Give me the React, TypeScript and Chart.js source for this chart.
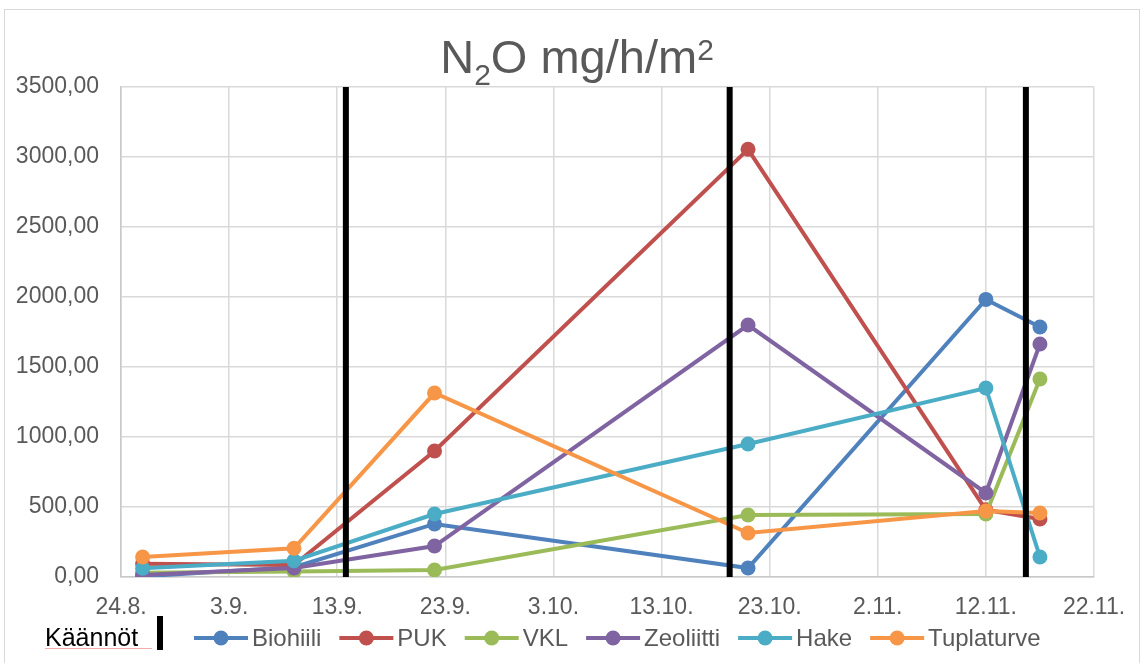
import React, { useEffect, useRef } from 'react';
import { Chart, registerables } from 'chart.js';

Chart.register(...registerables);

// Measurement dates (d.m.) and days after 24.8.
const measureDates = ['26.8.', '9.9.', '22.9.', '21.10.', '12.11.', '17.11.'];
// Turning events (Käännöt), days after 24.8.
const turnDays = [20.8, 56.3, 83.7];

const xTickLabels = ['24.8.', '3.9.', '13.9.', '23.9.', '3.10.', '13.10.', '23.10.', '2.11.', '12.11.', '22.11.'];
const yTickLabels = ['0,00', '500,00', '1000,00', '1500,00', '2000,00', '2500,00', '3000,00', '3500,00'];

const seriesNames = ['Biohiili', 'PUK', 'VKL', 'Zeoliitti', 'Hake', 'Tuplaturve'];
const seriesColors = ['#4F81BD', '#C0504D', '#9BBB59', '#8064A2', '#4BACC6', '#F79646'];

const biohiili = [5, 70, 379, 64, 1983, 1786];
const puk = [95, 85, 900, 3055, 480, 414];
const vkl = [30, 40, 50, 443, 450, 1414];
const zeoliitti = [15, 65, 221, 1800, 600, 1664];
const hake = [62, 116, 450, 950, 1350, 143];
const tuplaturve = [143, 205, 1314, 314, 471, 457];

const seriesValues = [biohiili, puk, vkl, zeoliitti, hake, tuplaturve];

const FONT = "'Liberation Sans', Arial, sans-serif";
const TEXT = '#595959';

function dayOffset(label: string): number {
  const [d, m] = label.split('.').map((s) => parseInt(s, 10));
  const base = Date.UTC(2020, 7, 24);
  const t = Date.UTC(2020, m - 1, d);
  return Math.round((t - base) / 86400000);
}

const decorPlugin = {
  id: 'decor',
  beforeDraw(chart: any) {
    const ctx = chart.ctx;
    ctx.save();
    ctx.fillStyle = '#ffffff';
    ctx.fillRect(0, 0, chart.width, chart.height);
    ctx.strokeStyle = '#D9D9D9';
    ctx.lineWidth = 1;
    ctx.strokeRect(4.5, 9.5, 1135, 670);
    ctx.restore();
  },
  afterDraw(chart: any) {
    const ctx = chart.ctx;
    ctx.save();
    // Title: N2O mg/h/m2
    const big = `47px ${FONT}`;
    const small = `30px ${FONT}`;
    ctx.fillStyle = TEXT;
    ctx.textBaseline = 'alphabetic';
    ctx.textAlign = 'left';
    ctx.font = big;
    const wN = ctx.measureText('N').width;
    const wMid = ctx.measureText('O mg/h/m').width;
    ctx.font = small;
    const w2 = ctx.measureText('2').width;
    const total = wN + w2 + wMid + w2;
    let x = 577 - total / 2;
    ctx.font = big;
    ctx.fillText('N', x, 73);
    x += wN;
    ctx.font = small;
    ctx.fillText('2', x, 85);
    x += w2;
    ctx.font = big;
    ctx.fillText('O mg/h/m', x, 73);
    x += wMid;
    ctx.font = small;
    ctx.fillText('2', x, 60);

    // Legend
    const ly = 638;
    ctx.font = `25px ${FONT}`;
    ctx.fillStyle = '#000000';
    ctx.textBaseline = 'alphabetic';
    ctx.fillText('Käännöt', 45, 646);
    ctx.strokeStyle = 'rgba(240,150,150,0.8)';
    ctx.lineWidth = 1;
    ctx.beginPath();
    ctx.moveTo(45, 648.5);
    ctx.lineTo(152, 648.5);
    ctx.stroke();
    ctx.fillStyle = '#000000';
    ctx.fillRect(157, 616, 6, 34);

    ctx.font = `24px ${FONT}`;
    ctx.textBaseline = 'middle';
    let lx = 194;
    seriesNames.forEach((name, i) => {
      const c = seriesColors[i];
      ctx.strokeStyle = c;
      ctx.lineWidth = 4;
      ctx.beginPath();
      ctx.moveTo(lx, ly);
      ctx.lineTo(lx + 54, ly);
      ctx.stroke();
      ctx.fillStyle = c;
      ctx.beginPath();
      ctx.arc(lx + 27, ly, 7.5, 0, Math.PI * 2);
      ctx.fill();
      ctx.fillStyle = TEXT;
      ctx.fillText(name, lx + 58, ly + 1);
      lx += 58 + ctx.measureText(name).width + 18;
    });
    ctx.restore();
  },
};

export default function App() {
  const ref = useRef<HTMLCanvasElement | null>(null);

  useEffect(() => {
    if (!ref.current) return;
    const xs = measureDates.map(dayOffset);
    const datasets: any[] = [];
    turnDays.forEach((d) => {
      datasets.push({
        label: 'Käännöt',
        data: [
          { x: d, y: 0 },
          { x: d, y: 3500 },
        ],
        borderColor: '#000000',
        backgroundColor: '#000000',
        borderWidth: 6,
        pointRadius: 0,
        order: 0,
      });
    });
    seriesNames.forEach((name, i) => {
      datasets.push({
        label: name,
        data: xs.map((x, j) => ({ x, y: seriesValues[i][j] })),
        borderColor: seriesColors[i],
        backgroundColor: seriesColors[i],
        pointBackgroundColor: seriesColors[i],
        pointBorderColor: seriesColors[i],
        pointBorderWidth: 0,
        pointRadius: 7.5,
        borderWidth: 4,
        tension: 0,
        order: 6 - i,
      });
    });

    const chart = new Chart(ref.current, {
      type: 'line',
      data: { datasets },
      options: {
        animation: false,
        responsive: true,
        maintainAspectRatio: false,
        layout: { padding: { left: 0, right: 50, top: 87, bottom: 46 } },
        plugins: {
          legend: { display: false },
          tooltip: { enabled: false },
          title: { display: false },
        },
        scales: {
          x: {
            type: 'linear',
            min: 0,
            max: 90,
            afterFit(scale: any) {
              scale.height = 40;
            },
            ticks: {
              stepSize: 10,
              autoSkip: false,
              maxRotation: 0,
              padding: 17,
              color: TEXT,
              font: { family: FONT, size: 23 },
              callback: (_v: any, i: number) => xTickLabels[i],
            },
            grid: { color: '#D9D9D9', lineWidth: 1.5, drawTicks: false },
            border: { color: '#C8C8C8', width: 1.5 },
          },
          y: {
            min: 0,
            max: 3500,
            afterFit(scale: any) {
              scale.width = 121;
            },
            ticks: {
              stepSize: 500,
              padding: 22,
              color: TEXT,
              font: { family: FONT, size: 23 },
              callback: (_v: any, i: number) => yTickLabels[i],
            },
            grid: { color: '#D9D9D9', lineWidth: 1.5, drawTicks: false },
            border: { color: '#C8C8C8', width: 1.5 },
          },
        },
      },
      plugins: [decorPlugin],
    });
    return () => chart.destroy();
  }, []);

  return (
    <div style={{ position: 'absolute', left: 0, top: 0, width: 1144, height: 663, overflow: 'hidden' }}>
      <canvas ref={ref} />
    </div>
  );
}
